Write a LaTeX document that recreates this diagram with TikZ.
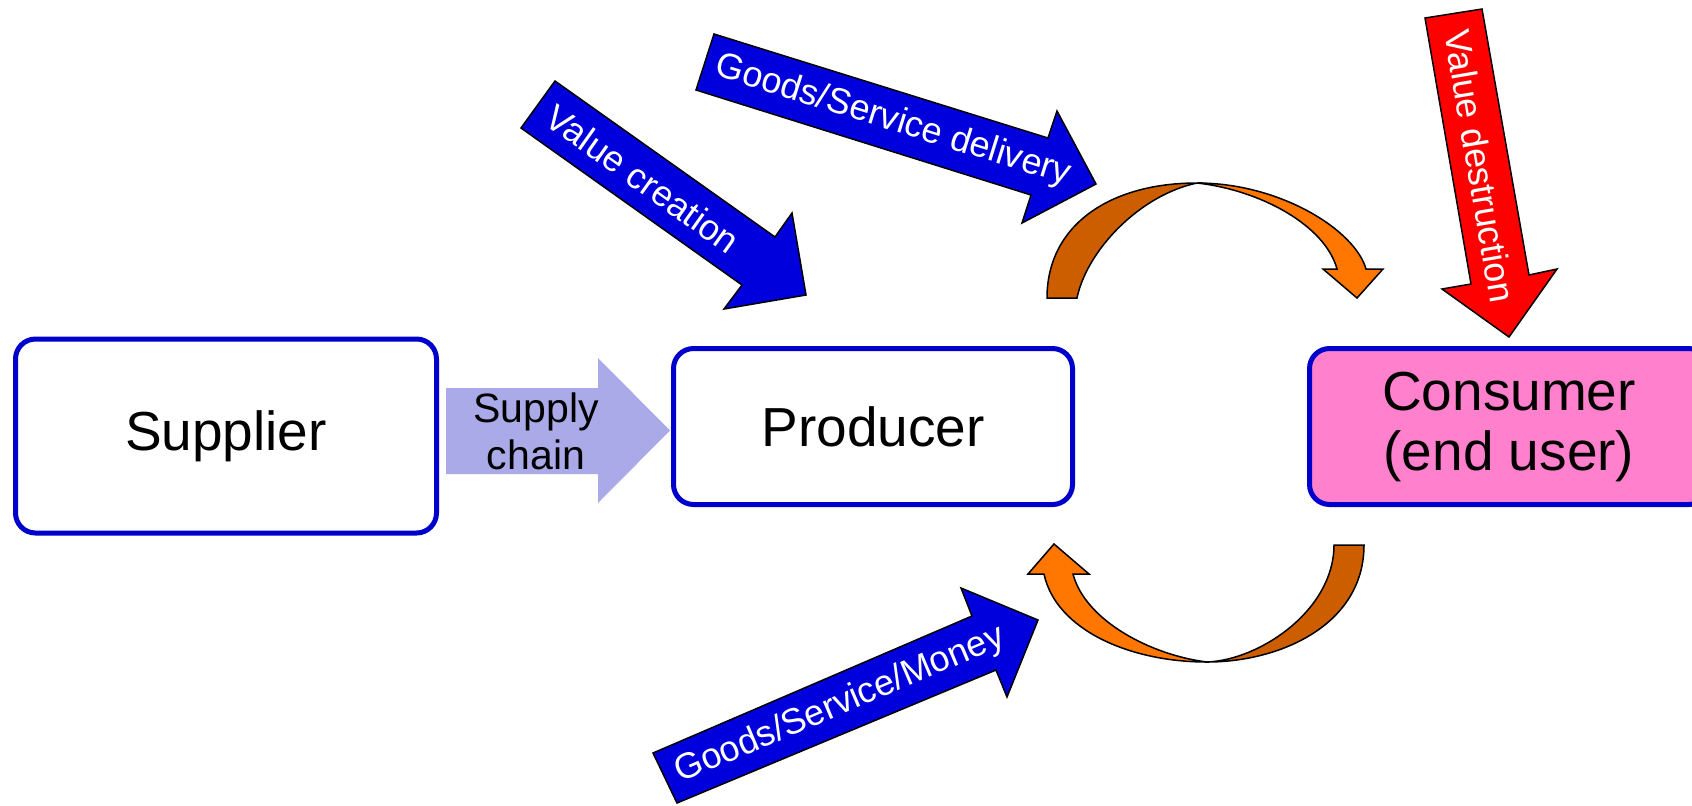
\documentclass[tikz,border=0pt]{standalone}
\usepackage{fontspec}
\setmainfont{Liberation Sans}
\begin{document}
\begin{tikzpicture}[x=0.5pt,y=0.5pt,yscale=-1,xscale=1,
  box/.style={draw={rgb, 255:red, 0; green, 0; blue, 204 }, line width=2.5pt, rounded corners=10pt, minimum width=199.5pt, minimum height=78pt, inner sep=0pt, align=center, font=\fontsize{27.5}{30}\selectfont},
  bluearrow/.style={draw=black, line width=0.75pt, fill={rgb, 255:red, 0; green, 0; blue, 221 }, fill opacity=1},
  darkorange/.style={draw=black, line width=0.75pt, fill={rgb, 255:red, 204; green, 94; blue, 0 }, fill opacity=1},
  lightorange/.style={draw=black, line width=0.75pt, fill={rgb, 255:red, 255; green, 119; blue, 0 }, fill opacity=1},
  arrowtext/.style={color=white, inner sep=0pt, font=\fontsize{18}{20}\selectfont}]
\useasboundingbox (0,0) rectangle (1692,805);
\clip (0,0) rectangle (1692,805);

\draw  [fill={rgb, 255:red, 170; green, 170; blue, 232 }  ,draw=none ]  (446,388) -- (598,388) -- (598,358) -- (670,430.5) -- (598,503) -- (598,474) -- (446,474) -- cycle ;
\draw  [bluearrow]  (555,81) -- (775,237) -- (792,213) -- (806,295) -- (724,309) -- (742,285) -- (521,128) -- cycle ;
\draw  [bluearrow]  (714,34) -- (1048,138) -- (1057,111) -- (1096,184) -- (1022,223) -- (1031,195) -- (696,90) -- cycle ;
\draw  [bluearrow]  (653,753) -- (972,616) -- (961,588) -- (1038,620) -- (1007,697) -- (996,670) -- (677,803) -- cycle ;
\draw  [fill={rgb, 255:red, 255; green, 0; blue, 0 }  ,draw=black ,line width=0.75pt ]  (1425,18) -- (1482,9) -- (1529,275) -- (1557,269) -- (1509,337) -- (1442,289) -- (1471,284) -- cycle ;


\draw  [darkorange]  (1047,298) .. controls (1047,225) and (1110,183) .. (1197,183) .. controls (1140,195) and (1087,250) .. (1077,298) -- cycle ;
\draw  [lightorange]  (1197,183) .. controls (1280,183) and (1355,230) .. (1366,269) -- (1383,269) -- (1357,298) -- (1323,269) -- (1337,269) .. controls (1325,225) and (1260,190) .. (1197,183) -- cycle ;
\draw  [darkorange]  (1364,545) .. controls (1364,625) and (1280,662) .. (1207,662) .. controls (1260,660) and (1334,610) .. (1334,545) -- cycle ;
\draw  [lightorange]  (1207,662) .. controls (1130,662) and (1056,630) .. (1044,574) -- (1028,574) -- (1054,544) -- (1089,574) -- (1073,574) .. controls (1085,620) and (1150,655) .. (1207,662) -- cycle ;

\draw (226,436) node (supplier) [box, minimum width=210.5pt, minimum height=97pt] {Supplier};
\draw (873,426.5) node (producer) [box] {Producer};
\draw (1509,426.5) node (consumer) [box, fill={rgb, 255:red, 255; green, 128; blue, 204 }] {Consumer\\(end user)};
\draw (536,431) node (supplychain) [align=center, inner sep=0pt, font=\fontsize{20.5}{23.5}\selectfont] {Supply\\chain};
\draw (643,179) node (creation) [arrowtext, rotate=-35.4] {Value creation};
\draw (893,121) node (delivery) [arrowtext, rotate=-17.3] {Goods/Service delivery};
\draw (1480,166) node (destruction) [arrowtext, rotate=-80.3] {Value destruction};
\draw (840,705) node (money) [arrowtext, rotate=23] {Goods/Service/Money};

\end{tikzpicture}
\end{document}
